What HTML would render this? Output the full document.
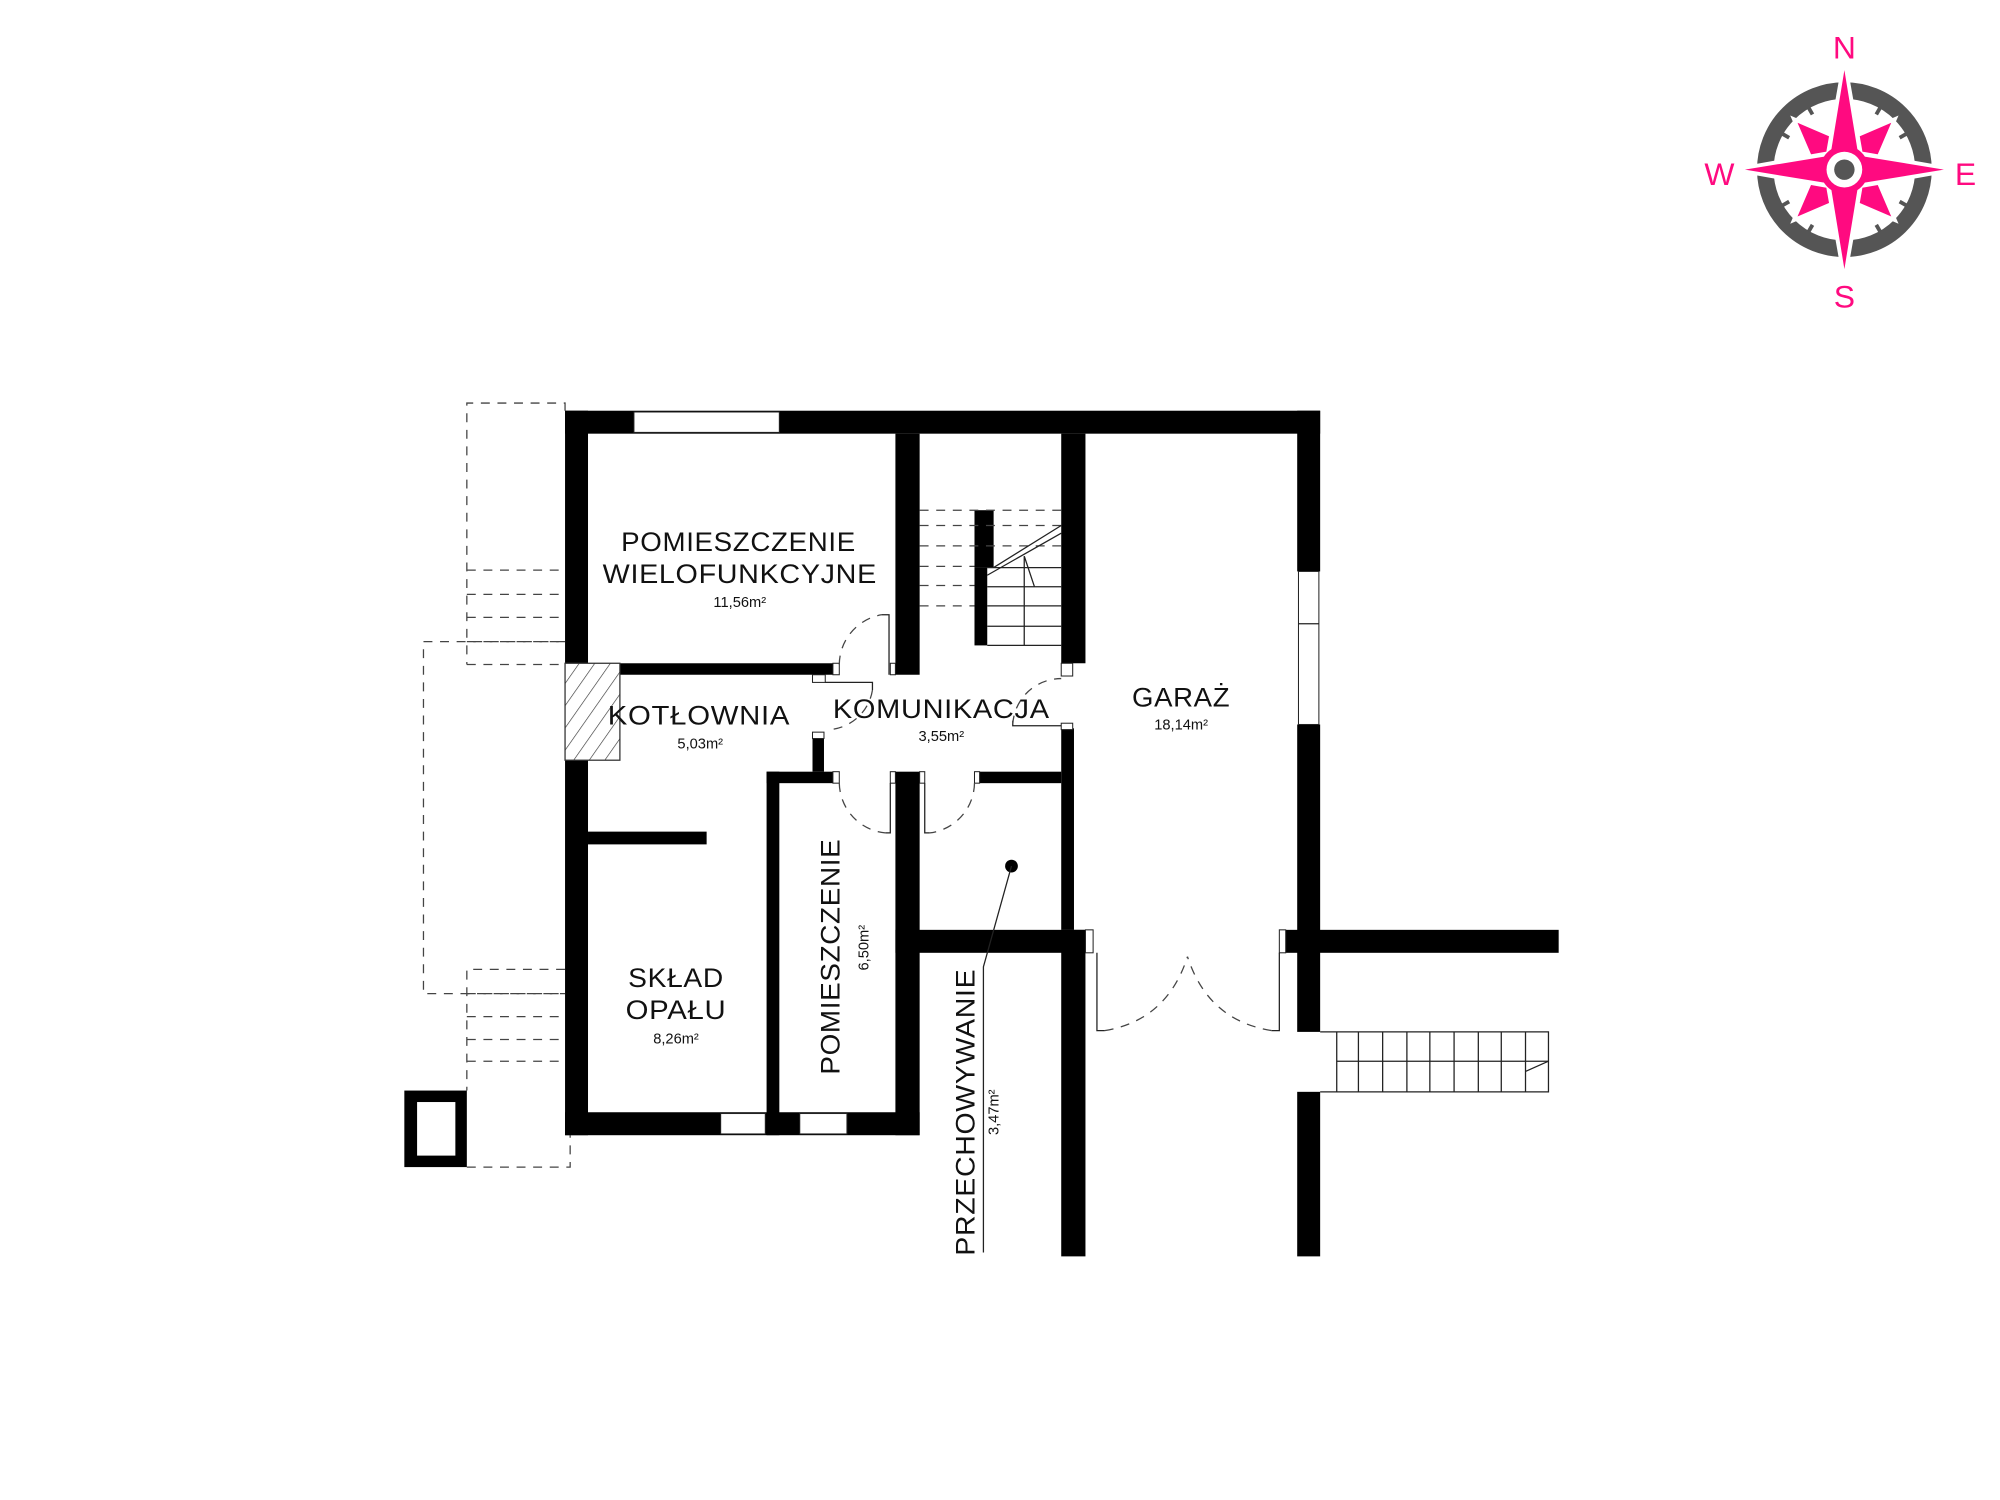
<!DOCTYPE html>
<html><head><meta charset="utf-8"><style>
html,body{margin:0;padding:0;background:#fff;}
svg{display:block;}
text{font-family:"Liberation Sans","DejaVu Sans",sans-serif;fill:#111;}
.lbl{font-size:21px;letter-spacing:0.5px;}
.ar{font-size:11.5px;}
.d{fill:none;stroke:#444;stroke-width:1;stroke-dasharray:7 6;}
.t{fill:none;stroke:#222;stroke-width:1;}
.j{fill:#fff;stroke:#222;stroke-width:0.8;}
</style></head><body>
<svg width="2000" height="1500" viewBox="0 0 1568 1176" xmlns="http://www.w3.org/2000/svg">
<defs>
<pattern id="h" width="10" height="10" patternUnits="userSpaceOnUse" patternTransform="rotate(35)">
<line x1="0" y1="0" x2="0" y2="10" stroke="#333" stroke-width="1"/>
</pattern>
</defs>
<rect width="1568" height="1176" fill="#fff"/>

<!-- dashed outlines left -->
<path class="d" d="M443 322 V316 H366 V521"/>
<path class="d" d="M366 447 H443 M366 466 H443 M366 484 H443 M366 503 H443 M366 521 H443"/>
<path class="d" d="M443 503 H332 V779 H443"/>
<path class="d" d="M443 760 H366 V855"/>
<path class="d" d="M366 779 H443 M366 797 H443 M366 815 H443 M366 832 H443"/>
<path class="d" d="M366 915 H447 V890"/>
<!-- chimney -->
<rect x="317" y="855" width="49" height="60" fill="#000"/>
<rect x="327" y="864" width="30" height="42" fill="#fff"/>

<!-- walls -->
<g fill="#000">
<rect x="443" y="322" width="592" height="18"/>
<rect x="443" y="322" width="18" height="198"/>
<rect x="443" y="596" width="18" height="294"/>
<rect x="486" y="520" width="167" height="9"/>
<rect x="702" y="340" width="19" height="189"/>
<rect x="764" y="400" width="15" height="45"/>
<rect x="764" y="445" width="10" height="61"/>
<rect x="832" y="340" width="19" height="180"/>
<rect x="832" y="571" width="10" height="158"/>
<rect x="832" y="729" width="19" height="256"/>
<rect x="702" y="729" width="149" height="18"/>
<rect x="1008" y="729" width="214" height="18"/>
<rect x="1017" y="322" width="18" height="126"/>
<rect x="1017" y="568" width="18" height="241"/>
<rect x="1017" y="856" width="18" height="129"/>
<rect x="637" y="574" width="9" height="31"/>
<rect x="601" y="605" width="52" height="9"/>
<rect x="601" y="605" width="10" height="285"/>
<rect x="702" y="605" width="19" height="285"/>
<rect x="768" y="605" width="64" height="9"/>
<rect x="461" y="652" width="93" height="10"/>
<rect x="443" y="872" width="278" height="18"/>
</g>
<!-- windows -->
<rect class="j" x="497" y="323" width="114" height="16"/>
<rect class="j" x="1018" y="448" width="16" height="120"/>
<line class="t" x1="1018" y1="489" x2="1034" y2="489"/>
<rect class="j" x="565" y="873" width="35" height="16"/>
<rect class="j" x="627" y="873" width="37" height="16"/>
<!-- hatch -->
<rect x="443" y="520" width="43" height="76" fill="url(#h)" stroke="#333" stroke-width="1"/>

<!-- jambs -->
<rect class="j" x="653" y="520" width="5" height="9"/>
<rect class="j" x="637" y="529" width="10" height="6"/>
<rect class="j" x="698" y="520" width="4" height="9"/>
<rect class="j" x="832" y="520" width="9" height="10"/>
<rect class="j" x="832" y="567" width="9" height="5"/>
<rect class="j" x="637" y="574" width="9" height="5"/>
<rect class="j" x="653" y="605" width="5" height="9"/>
<rect class="j" x="698" y="605" width="4" height="9"/>
<rect class="j" x="721" y="605" width="4" height="9"/>
<rect class="j" x="764" y="605" width="4" height="9"/>
<rect class="j" x="851" y="729" width="6" height="18"/>
<rect class="j" x="1003" y="729" width="5" height="18"/>

<!-- doors -->
<path class="t" d="M691 482 H697 V529"/>
<path class="d" d="M658 521 A40 40 0 0 1 691 482"/>
<path class="t" d="M647 535 H684 V541"/>
<path class="d" d="M684 541 A37 37 0 0 1 651 572"/>
<path class="t" d="M794 565 V569 H832"/>
<path class="d" d="M794 568 A38 38 0 0 1 832 532"/>
<path class="t" d="M698 614 V653 H694"/>
<path class="d" d="M658 614 A40 40 0 0 0 694 653"/>
<path class="t" d="M725 614 V653 H729"/>
<path class="d" d="M764 614 A40 40 0 0 1 729 653"/>
<path class="t" d="M860 747 V808 H866"/>
<path class="d" d="M866 808 Q915 800 931 750"/>
<path class="t" d="M1003 747 V808 H997"/>
<path class="d" d="M997 808 Q947 800 931 750"/>

<!-- interior stair -->
<path class="d" d="M721 400 H832 M721 412 H832 M721 428 H832 M721 444 H764 M721 459 H764 M721 475 H764"/>
<path class="t" d="M774 445 H832 M774 460 H832 M774 475 H832 M774 491 H832 M774 506 H832"/>
<path class="t" d="M803 436 V506 M803 436 L811 460"/>
<path class="t" d="M774 451 L832 418 M779 445 L832 412"/>

<!-- exterior stair -->
<path class="t" d="M1035 809 H1214 V856 H1035 M1048 832 H1214"/>
<path class="t" d="M1048 809 V856 M1065 809 V856 M1084 809 V856 M1103 809 V856 M1121 809 V856 M1140 809 V856 M1159 809 V856 M1177 809 V856 M1196 809 V856 M1196 840 L1214 832"/>

<!-- storage dot -->
<circle cx="793" cy="679" r="5" fill="#000"/>
<path class="t" d="M793 679 L771 758 V982"/>

<!-- labels -->
<text class="lbl" x="579" y="432" text-anchor="middle" textLength="184" lengthAdjust="spacingAndGlyphs">POMIESZCZENIE</text>
<text class="lbl" x="580" y="457" text-anchor="middle" textLength="215" lengthAdjust="spacingAndGlyphs">WIELOFUNKCYJNE</text>
<text class="ar" x="580" y="476" text-anchor="middle">11,56m²</text>
<text class="lbl" x="548" y="568" text-anchor="middle" textLength="143" lengthAdjust="spacingAndGlyphs">KOTŁOWNIA</text>
<text class="ar" x="549" y="587" text-anchor="middle">5,03m²</text>
<text class="lbl" x="738" y="563" text-anchor="middle" textLength="170" lengthAdjust="spacingAndGlyphs">KOMUNIKACJA</text>
<text class="ar" x="738" y="581" text-anchor="middle">3,55m²</text>
<text class="lbl" x="926" y="554" text-anchor="middle" textLength="77" lengthAdjust="spacingAndGlyphs">GARAŻ</text>
<text class="ar" x="926" y="572" text-anchor="middle">18,14m²</text>
<text class="lbl" x="530" y="774" text-anchor="middle" textLength="75" lengthAdjust="spacingAndGlyphs">SKŁAD</text>
<text class="lbl" x="530" y="799" text-anchor="middle" textLength="79" lengthAdjust="spacingAndGlyphs">OPAŁU</text>
<text class="ar" x="530" y="818" text-anchor="middle">8,26m²</text>
<text class="lbl" transform="translate(658 750) rotate(-90)" text-anchor="middle" textLength="185" lengthAdjust="spacingAndGlyphs">POMIESZCZENIE</text>
<text class="ar" transform="translate(681 743) rotate(-90)" text-anchor="middle">6,50m²</text>
<text class="lbl" transform="translate(764 872) rotate(-90)" text-anchor="middle" textLength="225" lengthAdjust="spacingAndGlyphs">PRZECHOWYWANIE</text>
<text class="ar" transform="translate(783 872) rotate(-90)" text-anchor="middle">3,47m²</text>

<!-- compass -->
<g transform="translate(1446 133)">
<circle r="62" fill="none" stroke="#555" stroke-width="13"/>
<g stroke="#555" stroke-width="3">
<line x1="0" y1="-56" x2="0" y2="-50" transform="rotate(30)"/>
<line x1="0" y1="-56" x2="0" y2="-50" transform="rotate(60)"/>
<line x1="0" y1="-56" x2="0" y2="-50" transform="rotate(120)"/>
<line x1="0" y1="-56" x2="0" y2="-50" transform="rotate(150)"/>
<line x1="0" y1="-56" x2="0" y2="-50" transform="rotate(210)"/>
<line x1="0" y1="-56" x2="0" y2="-50" transform="rotate(240)"/>
<line x1="0" y1="-56" x2="0" y2="-50" transform="rotate(300)"/>
<line x1="0" y1="-56" x2="0" y2="-50" transform="rotate(330)"/>
</g>
<polygon fill="#ff0a80" stroke="#fff" stroke-width="3" points="0,-56 16,-16 56,0 16,16 0,56 -16,16 -56,0 -16,-16" transform="rotate(45)"/>
<polygon fill="#ff0a80" stroke="#fff" stroke-width="5" points="0,-80 12,-12 80,0 12,12 0,80 -12,12 -80,0 -12,-12"/>
<polygon fill="#ff0a80" points="0,-78 11,-11 78,0 11,11 0,78 -11,11 -78,0 -11,-11"/>
<circle r="19" fill="#ff0a80"/>
<circle r="14" fill="#fff"/>
<circle r="8" fill="#555"/>
</g>
<g style="font-size:25px" text-anchor="middle">
<text x="1446" y="46" style="fill:#ff0a80">N</text>
<text x="1446" y="241" style="fill:#ff0a80">S</text>
<text x="1348" y="145" style="fill:#ff0a80">W</text>
<text x="1541" y="145" style="fill:#ff0a80">E</text>
</g>
</svg>
</body></html>
